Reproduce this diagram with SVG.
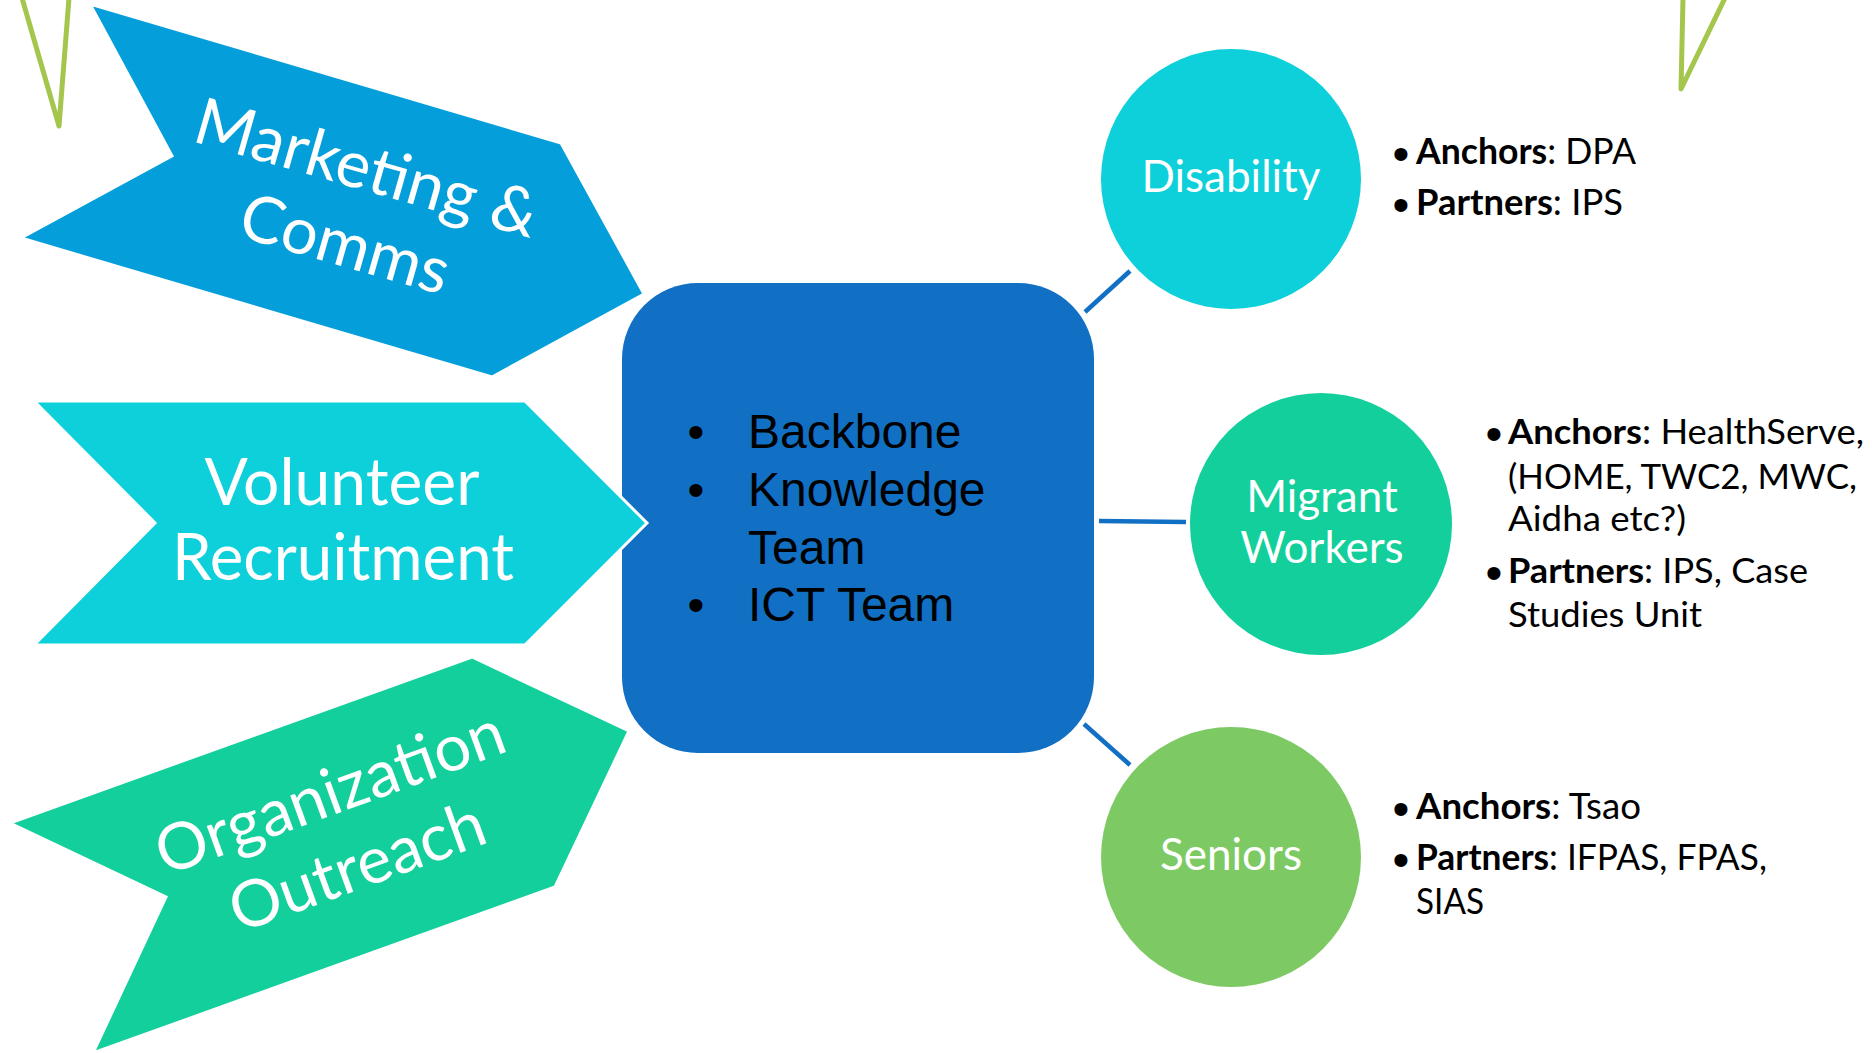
<svg xmlns="http://www.w3.org/2000/svg" width="1872" height="1053" viewBox="0 0 1872 1053">
<style>
.deco{fill:none;stroke:#A4C64C;stroke-width:5;stroke-linejoin:round;stroke-linecap:round}
.arrow{stroke:#FFFFFF;stroke-width:3;stroke-linejoin:miter}
.wt{font-family:Lato,"Open Sans",sans-serif;fill:#FFFFFF;text-anchor:middle}
.big{font-size:65px}
.circ{font-size:44px}
.bt{font-family:Lato,"Open Sans",sans-serif;font-size:36px;fill:#000000}
.mt{font-size:35px}
.b{font-weight:bold}
.dot{font-family:"Liberation Sans",Arial,sans-serif;font-size:48px;fill:#000000;text-anchor:middle}
.hdot{font-family:"Liberation Sans",Arial,sans-serif;font-size:48px;fill:#000000;text-anchor:middle}
.ct{font-family:"Liberation Sans",Arial,sans-serif;font-size:48px;fill:#000000}
.conn{stroke:#116FC4;stroke-width:4.5;fill:none}
</style>
<rect width="1872" height="1053" fill="#FFFFFF"/>
<g id="decoration">
<polyline class="deco" points="22,-2 59,126 69,-2"/>
<polyline class="deco" points="1683,-2 1681,89 1725,-2"/>
</g>
<g id="connectors">
<line class="conn" x1="1085" y1="312" x2="1130" y2="271"/>
<line class="conn" x1="1099" y1="521" x2="1186" y2="522"/>
<line class="conn" x1="1084" y1="724" x2="1130" y2="765"/>
</g>
<g id="hub">
<rect x="622" y="283" width="472" height="470" rx="76" ry="76" fill="#116FC4"/>
<text class="hdot" x="696" y="448">•</text>
<text class="ct" x="748" y="448">Backbone</text>
<text class="hdot" x="696" y="506">•</text>
<text class="ct" x="748" y="506">Knowledge</text>
<text class="ct" x="748" y="564">Team</text>
<text class="hdot" x="696" y="621">•</text>
<text class="ct" x="748" y="621">ICT Team</text>
</g>
<g id="marketing">
<path class="arrow" d="M90,4 L561,143 L644,294 L492,377 L21,238 L172,156 Z" fill="#049FDA"/>
<g transform="translate(350,227) rotate(16)">
<text class="wt big" x="0" y="-39">Marketing &amp;</text>
<text class="wt big" x="0" y="40">Comms</text>
</g>
</g>
<g id="volunteer">
<path class="arrow" d="M34,401 L525,401 L647,523 L525,645 L34,645 L155,523 Z" fill="#0DD0DA"/>
<text class="wt big" x="342" y="505" textLength="275" lengthAdjust="spacingAndGlyphs">Volunteer</text>
<text class="wt big" x="343" y="580" textLength="342" lengthAdjust="spacingAndGlyphs">Recruitment</text>
</g>
<g id="outreach">
<path class="arrow" d="M472,657 L629,731 L555,887 L93,1053 L166,897 L10,823 Z" fill="#13CF9B"/>
<g transform="translate(351,850) rotate(-20)">
<text class="wt big" x="0" y="-39">Organization</text>
<text class="wt big" x="0" y="40">Outreach</text>
</g>
</g>
<g id="disability">
<circle cx="1231" cy="179" r="130" fill="#0DD0DA"/>
<text class="wt circ" x="1231" y="192">Disability</text>
<text class="dot" x="1401" y="170">•</text>
<text class="bt" x="1416" y="164" textLength="220" lengthAdjust="spacingAndGlyphs"><tspan class="b">Anchors</tspan>: DPA</text>
<text class="dot" x="1401" y="221">•</text>
<text class="bt" x="1416" y="215" textLength="207" lengthAdjust="spacingAndGlyphs"><tspan class="b">Partners</tspan>: IPS</text>
</g>
<g id="migrant">
<circle cx="1321" cy="524" r="131" fill="#13CF9B"/>
<text class="wt circ" x="1322" y="512">Migrant</text>
<text class="wt circ" x="1322" y="563">Workers</text>
<text class="dot" x="1494" y="450">•</text>
<text class="bt mt" x="1508" y="444" textLength="356" lengthAdjust="spacingAndGlyphs"><tspan class="b">Anchors</tspan>: HealthServe,</text>
<text class="bt mt" x="1508" y="489" textLength="349" lengthAdjust="spacingAndGlyphs">(HOME, TWC2, MWC,</text>
<text class="bt mt" x="1508" y="531" textLength="178" lengthAdjust="spacingAndGlyphs">Aidha etc?)</text>
<text class="dot" x="1494" y="589">•</text>
<text class="bt mt" x="1508" y="583" textLength="300" lengthAdjust="spacingAndGlyphs"><tspan class="b">Partners</tspan>: IPS, Case</text>
<text class="bt mt" x="1508" y="627" textLength="194" lengthAdjust="spacingAndGlyphs">Studies Unit</text>
</g>
<g id="seniors">
<circle cx="1231" cy="857" r="130" fill="#7DCA64"/>
<text class="wt circ" x="1231" y="870">Seniors</text>
<text class="dot" x="1401" y="825">•</text>
<text class="bt" x="1416" y="819" textLength="225" lengthAdjust="spacingAndGlyphs"><tspan class="b">Anchors</tspan>: Tsao</text>
<text class="dot" x="1401" y="876">•</text>
<text class="bt" x="1416" y="870" textLength="351" lengthAdjust="spacingAndGlyphs"><tspan class="b">Partners</tspan>: IFPAS, FPAS,</text>
<text class="bt" x="1416" y="914" textLength="68" lengthAdjust="spacingAndGlyphs">SIAS</text>
</g>
</svg>
